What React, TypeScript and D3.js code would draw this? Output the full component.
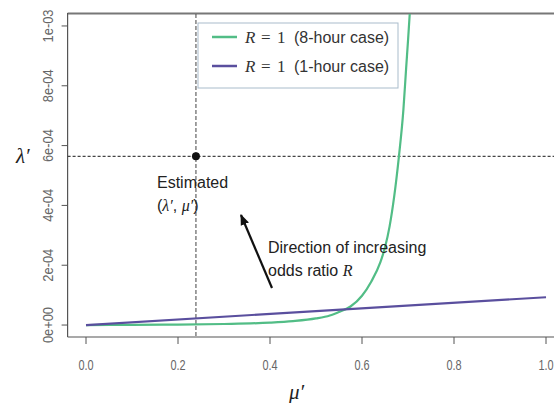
import { useEffect, useRef } from 'react';
import * as d3 from 'd3';

// curve of the 8-hour case
const muGreen = [0, 0.1, 0.2, 0.3, 0.4, 0.45, 0.5, 0.53, 0.55, 0.575, 0.6, 0.62, 0.64, 0.65, 0.66, 0.67, 0.68, 0.69, 0.696, 0.7, 0.705];
const lamGreen = [0, 0.5e-6, 1.5e-6, 3.5e-6, 8e-6, 1.3e-5, 2.2e-5, 3.2e-5, 4.4e-5, 6.2e-5, 9.8e-5, 1.45e-4, 2.1e-4, 2.6e-4, 3.3e-4, 4.3e-4, 5.6e-4, 7.2e-4, 8.6e-4, 9.5e-4, 1.07e-3];
// 1-hour case, a straight line
const muPurple = [0, 1];
const lamPurple = [0, 9.3e-5];

const xTicks = [0, 0.2, 0.4, 0.6, 0.8, 1.0];
const xTickLabels = ['0.0', '0.2', '0.4', '0.6', '0.8', '1.0'];
const yTicks = [0, 2e-4, 4e-4, 6e-4, 8e-4, 1e-3];
const yTickLabels = ['0e+00', '2e-04', '4e-04', '6e-04', '8e-04', '1e-03'];

const estMu = 0.239;
const estLam = 5.64e-4;

const legendItems = ['(8-hour case)', '(1-hour case)'];
const colors = ['#52bd86', '#5a4f9e'];

export default function App() {
  const svgRef = useRef<SVGSVGElement>(null);
  const width = 554;
  const height = 403;
  const left = 67.6;
  const top = 14;
  const bottom = 337;
  const right = 564.4;

  const x = d3.scaleLinear().domain([-0.04, 1.04]).range([left, right]);
  const y = d3.scaleLinear().domain([-0.04e-3, 1.04e-3]).range([bottom, top]);

  useEffect(() => {
    const svg = d3.select(svgRef.current);
    const plot = svg.select('.curves');

    const line = d3.line<[number, number]>()
      .x(d => x(d[0]))
      .y(d => y(d[1]))
      .curve(d3.curveMonotoneX);

    const series: [number, number][][] = [
      muGreen.map((m, i) => [m, lamGreen[i]] as [number, number]),
      muPurple.map((m, i) => [m, lamPurple[i]] as [number, number]),
    ];

    plot.selectAll('.line')
      .data(series)
      .join('path')
      .attr('class', 'line')
      .attr('d', line)
      .attr('fill', 'none')
      .attr('stroke', (d, i) => colors[i])
      .attr('stroke-width', 2.2)
      .attr('clip-path', 'url(#plotclip)');
  }, []);

  const axisColor = '#555';
  const tickColor = '#666';
  const serif = 'Liberation Serif, serif';

  return (
    <svg ref={svgRef} width={width} height={height}
      style={{ position: 'fixed', left: 0, top: 0, background: '#fff', fontFamily: 'Liberation Sans, Arial, sans-serif' }}>
      <defs>
        <clipPath id="plotclip">
          <rect x={left} y={top} width={right - left} height={bottom - top} />
        </clipPath>
        <marker id="arrowhead" viewBox="0 0 10 10" refX="9" refY="5" markerWidth="5" markerHeight="5" orient="auto">
          <path d="M0,1 L10,5 L0,9 z" fill="#111" />
        </marker>
      </defs>

      {/* box */}
      <line x1={left} x2={width} y1={top - 0.5} y2={top - 0.5} stroke="#777" strokeWidth={1.8} />
      <line x1={left} x2={left} y1={top - 1} y2={bottom} stroke={axisColor} strokeWidth={1.2} />
      <line x1={left} x2={width} y1={bottom} y2={bottom} stroke={axisColor} strokeWidth={1.2} />

      {/* reference lines */}
      <line x1={left} x2={width} y1={y(estLam)} y2={y(estLam)} stroke="#444" strokeWidth={1.1} strokeDasharray="3,2" />
      <line x1={x(estMu)} x2={x(estMu)} y1={top} y2={bottom} stroke="#555" strokeWidth={1.1} strokeDasharray="4,2" />

      {/* y axis */}
      {yTicks.map((t, i) => (
        <g key={'y' + i}>
          <line x1={left - 6} x2={left} y1={y(t)} y2={y(t)} stroke={axisColor} />
          <text transform={`translate(${53},${y(t)}) rotate(-90) scale(0.92,1)`} textAnchor="middle" fontSize={14} fill={tickColor}>
            {yTickLabels[i]}
          </text>
        </g>
      ))}

      {/* x axis */}
      {xTicks.map((t, i) => (
        <g key={'x' + i}>
          <line x1={x(t)} x2={x(t)} y1={bottom} y2={bottom + 7} stroke={axisColor} />
          <text textAnchor="middle" fontSize={14} fill={tickColor}
            transform={`translate(${x(t)},370) scale(0.78,1)`}>
            {xTickLabels[i]}
          </text>
        </g>
      ))}

      <g className="curves" />

      {/* estimated point */}
      <circle cx={x(estMu)} cy={y(estLam)} r={4} fill="#111" />

      {/* axis titles */}
      <text x={16} y={163} fontSize={21} fontStyle="italic" fontFamily={serif} fill="#222">λ′</text>
      <text x={289} y={399} fontSize={21} fontStyle="italic" fontFamily={serif} fill="#222">μ′</text>

      {/* annotations */}
      <text x={157} y={188} fontSize={16} fill="#222">Estimated</text>
      <text x={157} y={211} fontSize={16} fill="#222">
        {'('}<tspan fontFamily={serif} fontStyle="italic">{'λ′'}</tspan>{', '}
        <tspan fontFamily={serif} fontStyle="italic">{'μ′'}</tspan>{')'}
      </text>
      <line x1={272} y1={288} x2={241} y2={215} stroke="#111" strokeWidth={2.2} markerEnd="url(#arrowhead)" />
      <text x={268} y={253} fontSize={16} fill="#222">Direction of increasing</text>
      <text x={268} y={276} fontSize={16} fill="#222">
        odds ratio <tspan fontFamily={serif} fontStyle="italic">R</tspan>
      </text>

      {/* legend */}
      <rect x={198} y={23} width={200} height={65} fill="#fff" stroke="#a9bccb" strokeWidth={1} />
      {legendItems.map((lab, i) => (
        <g key={'l' + i}>
          <line x1={212} x2={237} y1={37 + i * 29} y2={37 + i * 29} stroke={colors[i]} strokeWidth={2.5} />
          <text y={43 + i * 29} fontSize={17} fill="#333" fontFamily={serif}>
            <tspan x={245} fontStyle="italic">R</tspan>
            <tspan x={261}>=</tspan>
            <tspan x={277}>1</tspan>
          </text>
          <text x={294} y={43 + i * 29} fontSize={16} fill="#333">{lab}</text>
        </g>
      ))}
    </svg>
  );
}
